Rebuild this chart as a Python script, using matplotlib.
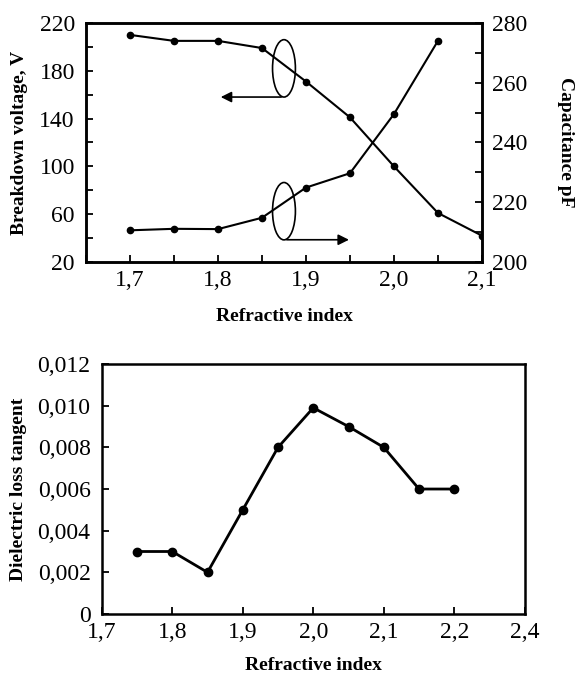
import numpy as np
import matplotlib
matplotlib.use("Agg")
import matplotlib.pyplot as plt
from matplotlib.patches import Ellipse

plt.rcParams['font.family'] = ['Liberation Serif', 'DejaVu Serif']

# top panel data
n_top = [1.70, 1.75, 1.80, 1.85, 1.90, 1.95, 2.00, 2.05, 2.10]
breakdown = [210, 205, 205, 199, 171, 141, 100, 61, 42]
n_cap = [1.70, 1.75, 1.80, 1.85, 1.90, 1.95, 2.00, 2.05]
capacitance = [210.6, 211.1, 211.0, 214.8, 224.9, 229.7, 249.5, 274.0]

top_xticks = [1.7, 1.8, 1.9, 2.0, 2.1]
top_xlabels = ['1,7', '1,8', '1,9', '2,0', '2,1']
left_yticks = [20, 60, 100, 140, 180, 220]
right_yticks = [200, 220, 240, 260, 280]

# bottom panel data
n_bot = [1.75, 1.80, 1.85, 1.90, 1.95, 2.00, 2.05, 2.10, 2.15, 2.20]
loss_tan = [0.003, 0.003, 0.002, 0.005, 0.008, 0.0099, 0.009, 0.008, 0.006, 0.006]

bot_xticks = [1.7, 1.8, 1.9, 2.0, 2.1, 2.2, 2.3]
bot_xlabels = ['1,7', '1,8', '1,9', '2,0', '2,1', '2,2', '2,4']
bot_yticks = [0, 0.002, 0.004, 0.006, 0.008, 0.010, 0.012]
bot_ylabels = ['0', '0,002', '0,004', '0,006', '0,008', '0,010', '0,012']

fig = plt.figure(figsize=(5.78, 6.81), dpi=100)

# ---- top panel
ax = fig.add_axes([0.1488, 0.6153, 0.685, 0.351])
ax.plot(n_top, breakdown, color='black', lw=1.5, marker='o', ms=4.5)
ax.set_xlim(1.65, 2.1)
ax.set_ylim(20, 220)
ax.set_xticks(top_xticks)
ax.set_xticklabels(top_xlabels)
ax.set_xticks(np.arange(1.65, 2.1, 0.05), minor=True)
ax.set_yticks(left_yticks)
ax.set_yticks(np.arange(40, 220, 40), minor=True)
ax.tick_params(which='both', direction='in', length=5, width=1.3, labelsize=17, top=False)
ax.tick_params(axis='y', pad=8)
ax.tick_params(axis='x', pad=6)
ax.set_xlabel('Refractive index', fontsize=14, fontweight='bold', labelpad=12)
ax.set_ylabel('Breakdown voltage, V', fontsize=14, fontweight='bold', labelpad=8)

ax2 = ax.twinx()
ax2.plot(n_cap, capacitance, color='black', lw=1.5, marker='o', ms=4.5)
ax2.set_ylim(200, 280)
ax2.set_yticks(right_yticks)
ax2.set_yticks(np.arange(210, 280, 20), minor=True)
ax2.tick_params(which='both', direction='in', length=5, width=1.3, labelsize=17, pad=7)
ax2.set_ylabel('Capacitance pF', fontsize=14, fontweight='bold', rotation=270, labelpad=34)
for a in (ax, ax2):
    for s in a.spines.values():
        s.set_linewidth(1.8)

# ellipse + arrow markers pointing to the axes
ax.add_patch(Ellipse((1.875, 182), 0.026, 48, fill=False, lw=1.2, color='black'))
ax.annotate('', xy=(1.80, 158), xytext=(1.875, 158),
            arrowprops=dict(arrowstyle='-|>', color='black', lw=1.2, mutation_scale=16))
ax.add_patch(Ellipse((1.875, 62.5), 0.026, 48, fill=False, lw=1.2, color='black'))
ax.annotate('', xy=(1.952, 38.6), xytext=(1.875, 38.6),
            arrowprops=dict(arrowstyle='-|>', color='black', lw=1.2, mutation_scale=16))

# ---- bottom panel
bx = fig.add_axes([0.176, 0.0984, 0.732, 0.367])
bx.plot(n_bot, loss_tan, color='black', lw=2, marker='o', ms=6)
bx.set_xlim(1.7, 2.3)
bx.set_ylim(0, 0.012)
bx.set_xticks(bot_xticks)
bx.set_xticklabels(bot_xlabels)
bx.set_yticks(bot_yticks)
bx.set_yticklabels(bot_ylabels)
bx.tick_params(direction='in', length=5, width=1.3, labelsize=17)
bx.tick_params(axis='y', pad=8)
bx.tick_params(axis='x', pad=6)
bx.set_xlabel('Refractive index', fontsize=14, fontweight='bold', labelpad=10)
bx.set_ylabel('Dielectric loss tangent', fontsize=14, fontweight='bold', labelpad=8)
for s in bx.spines.values():
    s.set_linewidth(1.8)

fig.savefig('out.png', dpi=100)
